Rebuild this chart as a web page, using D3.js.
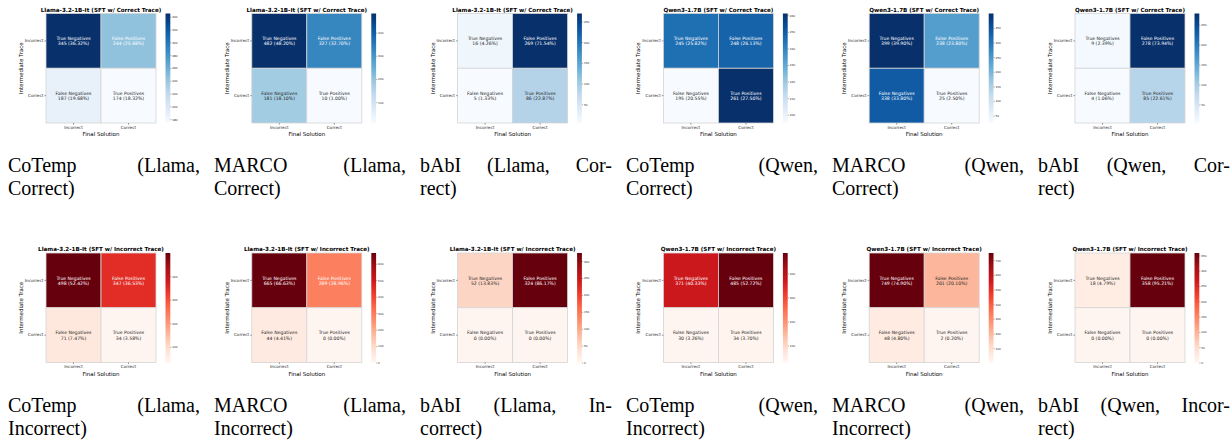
<!DOCTYPE html>
<html>
<head>
<meta charset="utf-8">
<script src="https://cdn.jsdelivr.net/npm/d3@7"></script>
<style>
  body { margin: 0; background: #fff; }
  svg { display: block; }
</style>
</head>
<body>
<svg id="chart"></svg>
<script>
// panel titles, left to right, top row then bottom row
const titles = [
  "Llama-3.2-1B-It (SFT w/ Correct Trace)",
  "Llama-3.2-1B-It (SFT w/ Correct Trace)",
  "Llama-3.2-1B-It (SFT w/ Correct Trace)",
  "Qwen3-1.7B (SFT w/ Correct Trace)",
  "Qwen3-1.7B (SFT w/ Correct Trace)",
  "Qwen3-1.7B (SFT w/ Correct Trace)",
  "Llama-3.2-1B-It (SFT w/ Incorrect Trace)",
  "Llama-3.2-1B-It (SFT w/ Incorrect Trace)",
  "Llama-3.2-1B-It (SFT w/ Incorrect Trace)",
  "Qwen3-1.7B (SFT w/ Incorrect Trace)",
  "Qwen3-1.7B (SFT w/ Incorrect Trace)",
  "Qwen3-1.7B (SFT w/ Incorrect Trace)"
];

// confusion matrix cells per panel
const trueNeg  = [345, 482, 16, 245, 399, 9, 498, 665, 52, 371, 749, 18];
const falsePos = [244, 327, 269, 248, 238, 278, 347, 289, 324, 485, 201, 358];
const falseNeg = [187, 181, 5, 195, 338, 4, 71, 44, 0, 30, 48, 0];
const truePos  = [174, 10, 86, 261, 25, 85, 34, 0, 0, 34, 2, 0];

// colorbar tick spacing per panel
const cbarSteps = [20, 100, 50, 10, 50, 50, 100, 100, 50, 100, 100, 50];

const rowLabels = ["Incorrect", "Correct"];
const colLabels = ["Incorrect", "Correct"];
const cellNames = [["True Negatives", "False Positives"], ["False Negatives", "True Positives"]];

// caption lines under each panel (last line not justified)
const captions = [
  ["CoTemp (Llama,", "Correct)"],
  ["MARCO (Llama,", "Correct)"],
  ["bAbI (Llama, Cor-", "rect)"],
  ["CoTemp (Qwen,", "Correct)"],
  ["MARCO (Qwen,", "Correct)"],
  ["bAbI (Qwen, Cor-", "rect)"],
  ["CoTemp (Llama,", "Incorrect)"],
  ["MARCO (Llama,", "Incorrect)"],
  ["bAbI (Llama, In-", "correct)"],
  ["CoTemp (Qwen,", "Incorrect)"],
  ["MARCO (Qwen,", "Incorrect)"],
  ["bAbI (Qwen, Incor-", "rect)"]
];

const W = 1231, H = 448;
const svg = d3.select("#chart").attr("width", W).attr("height", H);

const heatW = 110, heatH = 109.5;
const rowTops = [13.5, 253];
const capTops = [172, 412];
const font = "DejaVu Sans, sans-serif";

const blues = d3.piecewise(d3.interpolateRgb, d3.schemeBlues[9]);
const reds = d3.piecewise(d3.interpolateRgb, d3.schemeReds[9]);

titles.forEach((title, i) => {
  const col = i % 6, row = Math.floor(i / 6);
  const left = 46 + col * 205.8;
  const top = rowTops[row];
  const vals = [[trueNeg[i], falsePos[i]], [falseNeg[i], truePos[i]]];
  const flat = vals.flat();
  const total = d3.sum(flat);
  const vmin = d3.min(flat), vmax = d3.max(flat);
  const interp = row === 0 ? blues : reds;
  const color = d3.scaleSequential(interp).domain([vmin, vmax]);

  const x = d3.scaleBand().domain(colLabels).range([left, left + heatW]);
  const y = d3.scaleBand().domain(rowLabels).range([top, top + heatH]);

  const g = svg.append("g");

  const cells = [];
  rowLabels.forEach((r, ri) => colLabels.forEach((c, ci) => {
    cells.push({r, c, v: vals[ri][ci], name: cellNames[ri][ci]});
  }));

  g.selectAll("rect.cell")
    .data(cells)
    .join("rect")
    .attr("class", "cell")
    .attr("x", d => x(d.c))
    .attr("y", d => y(d.r))
    .attr("width", x.bandwidth())
    .attr("height", y.bandwidth())
    .attr("fill", d => color(d.v))
    .attr("stroke", "#d4d4d4")
    .attr("stroke-width", 0.8);

  const txt = g.selectAll("text.ann")
    .data(cells)
    .join("text")
    .attr("class", "ann")
    .attr("x", d => x(d.c) + x.bandwidth() / 2)
    .attr("y", d => y(d.r) + y.bandwidth() / 2)
    .attr("text-anchor", "middle")
    .attr("font-family", font)
    .attr("font-size", 4.6)
    .attr("fill", d => (d.v - vmin) / (vmax - vmin) > 0.38 ? "#fff" : "#262626");
  txt.append("tspan")
    .attr("x", d => x(d.c) + x.bandwidth() / 2)
    .attr("dy", -0.7)
    .text(d => d.name);
  txt.append("tspan")
    .attr("x", d => x(d.c) + x.bandwidth() / 2)
    .attr("dy", 5.1)
    .text(d => `${d.v} (${(d.v / total * 100).toFixed(2)}%)`);

  // axes
  const yAxis = g.append("g")
    .attr("transform", `translate(${left},0)`)
    .call(d3.axisLeft(y).tickSize(1.6).tickPadding(1));
  const xAxis = g.append("g")
    .attr("transform", `translate(0,${top + heatH})`)
    .call(d3.axisBottom(x).tickSize(1.6).tickPadding(1));
  [xAxis, yAxis].forEach(a => {
    a.select(".domain").remove();
    a.selectAll("line").attr("stroke", "#333").attr("stroke-width", 0.5);
    a.selectAll("text").attr("font-family", font).attr("font-size", 4.2).attr("fill", "#262626");
  });

  g.append("text")
    .attr("x", left + heatW / 2)
    .attr("y", top - 2)
    .attr("text-anchor", "middle")
    .attr("font-family", font)
    .attr("font-weight", "bold")
    .attr("font-size", 5.6)
    .text(title);

  g.append("text")
    .attr("x", left + heatW / 2)
    .attr("y", top + heatH + 13)
    .attr("text-anchor", "middle")
    .attr("font-family", font)
    .attr("font-size", 5.5)
    .text("Final Solution");

  g.append("text")
    .attr("transform", `translate(${left - 23},${top + heatH / 2}) rotate(-90)`)
    .attr("text-anchor", "middle")
    .attr("font-family", font)
    .attr("font-size", 5.5)
    .text("Intermediate Trace");

  // colorbar
  const cbX = left + heatW + 9.5, cbW = 4.8;
  const cy = d3.scaleLinear().domain([vmin, vmax]).range([top + heatH, top]);
  const gid = `grad${i}`;
  const grad = svg.append("defs").append("linearGradient")
    .attr("id", gid).attr("x1", 0).attr("y1", 1).attr("x2", 0).attr("y2", 0);
  d3.range(0, 1.0001, 0.05).forEach(t => {
    grad.append("stop").attr("offset", t).attr("stop-color", interp(t));
  });
  g.append("rect")
    .attr("x", cbX).attr("y", top)
    .attr("width", cbW).attr("height", heatH)
    .attr("fill", `url(#${gid})`);

  const step = cbarSteps[i];
  const ticks = d3.range(Math.ceil(vmin / step) * step, vmax + 1e-9, step);
  const cAxis = g.append("g")
    .attr("transform", `translate(${cbX + cbW},0)`)
    .call(d3.axisRight(cy).tickValues(ticks).tickSize(1.2).tickPadding(0.8).tickFormat(d3.format("d")));
  cAxis.select(".domain").remove();
  cAxis.selectAll("line").attr("stroke", "#333").attr("stroke-width", 0.4);
  cAxis.selectAll("text").attr("font-family", font).attr("font-size", 2.8).attr("fill", "#262626");

  // caption, justified like the paper's subfigure captions
  const capX = 8 + col * 206, capW = 192;
  captions[i].forEach((line, li) => {
    const t = svg.append("text")
      .attr("x", capX)
      .attr("y", capTops[row] + li * 22.5)
      .attr("font-family", "'Liberation Serif', 'Times New Roman', serif")
      .attr("font-size", 20)
      .attr("fill", "#000")
      .style("white-space", "pre")
      .text(line);
    const last = li === captions[i].length - 1;
    const nGaps = line.split(" ").length - 1;
    if (!last && nGaps > 0) {
      const natural = t.node().getComputedTextLength();
      t.attr("word-spacing", (capW - natural) / nGaps);
    }
  });
});
</script>
</body>
</html>
